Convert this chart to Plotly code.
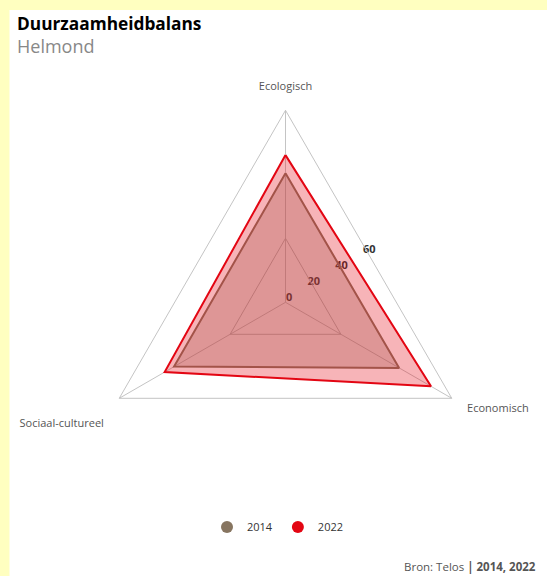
import plotly.graph_objects as go

categories = ["Ecologisch", "Economisch", "Sociaal-cultureel"]
category_labels = ["Ecologisch", "Economisch<br> ", " <br>Sociaal-cultureel"]
values_2014 = [40.3, 41.0, 40.2]
values_2022 = [46.0, 52.5, 43.6]
series_names = ["2014", "2022"]
series_colors = ["#877560", "#E30613"]
series_fills = ["rgba(135,117,96,0.30)", "rgba(227,6,19,0.30)"]
tick_vals = [0, 20, 40, 60]
tick_text = ["0", "20", "40", "60"]

W, H = 547, 576
FONT = "Open Sans"

def px(x):
    return x / W

def py(y):
    return 1 - y / H

cx, cy, R = 285.5, 302.3, 192.0
dom_x = [px(cx - R), px(cx + R)]
dom_y = [py(cy + R), py(cy - R)]
lbl_dx = 11
dom_x_lbl = [px(cx + lbl_dx - R), px(cx + lbl_dx + R)]

fig = go.Figure()

# legend-only entries (also anchor the label subplot)
for name, col in zip(series_names, series_colors):
    fig.add_trace(go.Scatterpolar(
        r=[None], theta=[None], mode="markers", name=name, legendgroup=name,
        marker=dict(size=12, color=col), subplot="polar", hoverinfo="skip"))

for name, vals, col, fc in zip(series_names, [values_2014, values_2022], series_colors, series_fills):
    fig.add_trace(go.Scatterpolar(
        r=vals + vals[:1], theta=categories + categories[:1], mode="lines",
        fill="toself", fillcolor=fc, line=dict(color=col, width=2),
        name=name, legendgroup=name, showlegend=False, subplot="polar2"))

fig.update_layout(
    width=W, height=H,
    margin=dict(l=0, r=0, t=0, b=0),
    paper_bgcolor="#FFFFC0",
    plot_bgcolor="white",
    font=dict(family=FONT, color="#333"),
    shapes=[dict(type="rect", xref="paper", yref="paper", x0=px(9.5), x1=1.0,
                 y0=0, y1=py(10), fillcolor="white", line=dict(width=0), layer="below")],
    polar=dict(
        domain=dict(x=dom_x_lbl, y=dom_y),
        bgcolor="rgba(0,0,0,0)",
        gridshape="linear",
        radialaxis=dict(range=[0, 120], tickvals=tick_vals, ticktext=tick_text,
                        angle=30, side="counterclockwise", showline=False, showgrid=False,
                        ticks="", tickangle=30, layer="below traces",
                        tickfont=dict(family=FONT, size=11, color="#333", weight="bold")),
        angularaxis=dict(visible=False, rotation=90, direction="clockwise"),
    ),
    polar2=dict(
        domain=dict(x=dom_x, y=dom_y),
        bgcolor="rgba(0,0,0,0)",
        gridshape="linear",
        radialaxis=dict(range=[0, 60], tickvals=[20, 60], showticklabels=False,
                        showline=False, ticks="", gridcolor="#bdbdbd", gridwidth=1,
                        layer="below traces"),
        angularaxis=dict(rotation=90, direction="clockwise", categoryorder="array",
                         categoryarray=categories, tickvals=categories, ticktext=category_labels,
                         showline=True, linecolor="#c4c4c4",
                         linewidth=1, gridcolor="#c4c4c4", ticks="outside", ticklen=15,
                         tickcolor="rgba(0,0,0,0)", layer="below traces",
                         tickfont=dict(family=FONT, size=11, color="#555")),
    ),
    legend=dict(orientation="h", x=px(278), xanchor="center", y=py(527), yanchor="middle",
                font=dict(family=FONT, size=11, color="#333"), bgcolor="rgba(0,0,0,0)",
                itemclick=False, itemdoubleclick=False),
    showlegend=True,
    annotations=[
        dict(text="<b>Duurzaamheidbalans</b>", x=px(15), y=py(23), xref="paper", yref="paper",
             xanchor="left", yanchor="middle", showarrow=False,
             font=dict(family=FONT, size=17.3, color="#000")),
        dict(text="Helmond", x=px(15), y=py(46), xref="paper", yref="paper",
             xanchor="left", yanchor="middle", showarrow=False,
             font=dict(family=FONT, size=18, color="#888")),
        dict(text="Bron: Telos <b>| 2014, 2022</b>", x=px(538), y=py(566), xref="paper", yref="paper",
             xanchor="right", yanchor="middle", showarrow=False,
             font=dict(family=FONT, size=11.5, color="#555")),
    ],
)

fig.write_html(
    "out.html",
    config={"displayModeBar": False},
    post_script="document.body.style.margin='0';document.body.style.background='#FFFFC0';",
)
